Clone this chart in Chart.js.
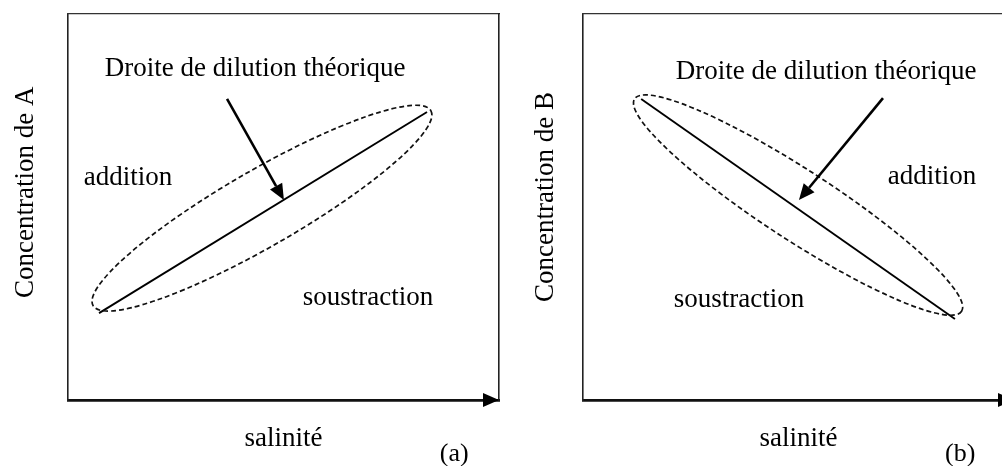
<!DOCTYPE html>
<html>
<head>
<meta charset="utf-8">
<script src="https://cdn.jsdelivr.net/npm/chart.js@4"></script>
<style>
  html, body { margin: 0; padding: 0; background: #fff; }
  #wrap { position: relative; width: 1002px; height: 466px; overflow: hidden; }
  #boxA { position: absolute; left: 0; top: 0; width: 500px; height: 466px; }
  #boxB { position: absolute; left: 500px; top: 0; width: 502px; height: 466px; overflow: hidden; }
</style>
</head>
<body>
<div id="wrap">
  <div id="boxA"><canvas id="chartA" width="500" height="466"></canvas></div>
  <div id="boxB"><canvas id="chartB" width="514" height="466"></canvas></div>
</div>
<script>
var salinityA = [7.2, 83.3];
var concA = [22.5, 74.6];
var salinityB = [13.5, 86.3];
var concB = [78.0, 21.0];

Chart.defaults.font.family = '"Liberation Serif", "Times New Roman", serif';
Chart.defaults.color = "#000";

function toPoints(xs, ys) {
  return xs.map(function (v, i) { return { x: v, y: ys[i] }; });
}

// ellipse en pointillés, flèches, textes
var annot = {
  id: "annot",
  afterDraw: function (chart, args, o) {
    var ctx = chart.ctx;
    var sx = chart.scales.x, sy = chart.scales.y;
    var P = function (v) { return [sx.getPixelForValue(v[0]), sy.getPixelForValue(v[1])]; };
    var area = chart.chartArea;
    ctx.save();

    // enveloppe
    var c = P(o.ellipse.center);
    ctx.strokeStyle = "#111";
    ctx.lineWidth = 1.7;
    ctx.setLineDash([5, 3]);
    ctx.beginPath();
    ctx.ellipse(c[0], c[1], o.ellipse.rx, o.ellipse.ry, o.ellipse.angle * Math.PI / 180, 0, Math.PI * 2);
    ctx.stroke();
    ctx.setLineDash([]);

    // flèche vers la droite
    var a = P(o.arrow[0]), b = P(o.arrow[1]);
    var ang = Math.atan2(b[1] - a[1], b[0] - a[0]);
    var L = 16, W = 7;
    var bx = b[0] - L * Math.cos(ang), by = b[1] - L * Math.sin(ang);
    ctx.strokeStyle = "#000";
    ctx.fillStyle = "#000";
    ctx.lineWidth = 2.6;
    ctx.beginPath();
    ctx.moveTo(a[0], a[1]);
    ctx.lineTo(bx, by);
    ctx.stroke();
    ctx.beginPath();
    ctx.moveTo(b[0], b[1]);
    ctx.lineTo(bx + W * Math.sin(ang), by - W * Math.cos(ang));
    ctx.lineTo(bx - W * Math.sin(ang), by + W * Math.cos(ang));
    ctx.closePath();
    ctx.fill();

    // pointe de l'axe des x
    ctx.beginPath();
    ctx.moveTo(area.right, area.bottom);
    ctx.lineTo(area.right - 16, area.bottom - 7);
    ctx.lineTo(area.right - 16, area.bottom + 7);
    ctx.closePath();
    ctx.fill();

    // textes
    ctx.textAlign = "center";
    ctx.textBaseline = "alphabetic";
    o.labels.forEach(function (l) {
      var p = P(l.at);
      ctx.font = (l.size || 27) + 'px "Liberation Serif"';
      ctx.fillText(l.text, p[0], p[1]);
    });

    // titre de l'axe vertical
    ctx.font = '27px "Liberation Serif"';
    ctx.translate(area.left - o.yTitle.gap, sy.getPixelForValue(o.yTitle.at));
    ctx.rotate(-Math.PI / 2);
    ctx.fillText(o.yTitle.text, 0, 0);
    ctx.restore();
  }
};

function makeChart(id, xs, ys, padLeft, padRight, extra) {
  return new Chart(document.getElementById(id), {
    type: "scatter",
    data: {
      datasets: [{
        data: toPoints(xs, ys),
        showLine: true,
        borderColor: "#000",
        borderWidth: 1.9,
        pointRadius: 0
      }]
    },
    options: {
      responsive: false,
      animation: false,
      layout: { padding: { top: 14, right: padRight, left: padLeft, bottom: 0 } },
      plugins: { legend: { display: false }, tooltip: { enabled: false }, annot: extra },
      scales: {
        x: {
          min: 0, max: 100,
          ticks: { display: false },
          grid: { display: false, drawTicks: false },
          border: { display: true, color: "#111", width: 2.8 },
          title: { display: true, text: "salinité", font: { size: 27 }, padding: { top: 22.8, bottom: 10.8 } }
        },
        y: {
          min: 0, max: 100,
          ticks: { display: false },
          grid: { display: false, drawTicks: false },
          border: { display: true, color: "#222", width: 1.6 }
        },
        x2: {
          position: "top", min: 0, max: 100,
          ticks: { display: false },
          grid: { display: false, drawTicks: false },
          border: { display: true, color: "#333", width: 1.3 }
        },
        y2: {
          position: "right", min: 0, max: 100,
          display: padRight > 0,
          ticks: { display: false },
          grid: { display: false, drawTicks: false },
          border: { display: true, color: "#222", width: 1.6 }
        }
      }
    },
    plugins: [annot]
  });
}

makeChart("chartA", salinityA, concA, 68, 1, {
  ellipse: { center: [45.0, 49.7], rx: 195, ry: 38, angle: -30 },
  arrow: [[36.9, 78.0], [50.1, 51.8]],
  yTitle: { text: "Concentration de A", at: 53.8, gap: 35 },
  labels: [
    { text: "Droite de dilution théorique", at: [43.4, 83.9] },
    { text: "addition", at: [13.9, 55.7] },
    { text: "soustraction", at: [69.6, 24.6] },
    { text: "(a)", at: [89.6, -15.8], size: 26 }
  ]
});

makeChart("chartB", salinityB, concB, 83, 0, {
  ellipse: { center: [49.9, 50.5], rx: 195, ry: 35, angle: 33 },
  arrow: [[69.6, 78.2], [50.1, 51.8]],
  yTitle: { text: "Concentration de B", at: 52.6, gap: 30 },
  labels: [
    { text: "Droite de dilution théorique", at: [56.4, 83.2] },
    { text: "addition", at: [81.0, 56.0] },
    { text: "soustraction", at: [36.2, 24.1] },
    { text: "(b)", at: [87.5, -15.8], size: 26 }
  ]
});
</script>
</body>
</html>
